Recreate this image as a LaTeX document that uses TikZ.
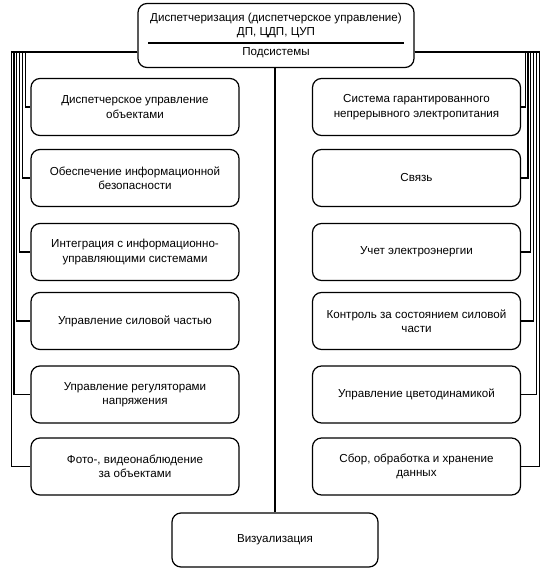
\documentclass[tikz,border=0pt]{standalone}
\usepackage{fontspec}
\setmainfont{Liberation Sans}
\usetikzlibrary{calc}
\begin{document}
\begin{tikzpicture}[x=1pt,y=-1pt,
  every node/.style={font=\fontsize{11.6}{14.5}\selectfont},
  sbox/.style={draw,line width=1.2pt,rounded corners=9pt,minimum width=208pt,minimum height=57pt,align=center,inner sep=2pt},
  txt/.style={inner sep=0pt},
  conn/.style={line width=1.2pt}]
\useasboundingbox (0,0) rectangle (547,574);
% top box
\node[draw,line width=1.2pt,rounded corners=9pt,minimum width=276pt,minimum height=64pt] (top) at (276,35.5) {};
\node[txt] (t1) at (276,18) {Диспетчеризация (диспетчерское управление)};
\node[txt] (t2) at (276,33) {ДП, ЦДП, ЦУП};
\node[txt] (t3) at (276,53) {Подсистемы};
\draw[conn] ($(top.north west)+(11,40)$) -- ($(top.north east)+(-11,40)$);
\coordinate (tw) at ([yshift=-16.5pt]top.west);
\coordinate (te) at ([yshift=-16.5pt]top.east);
% left boxes
\node[sbox] (l1) at (135,107) {Диспетчерское управление\\объектами};
\node[sbox] (l2) at (135,178) {Обеспечение информационной\\безопасности};
\node[sbox] (l3) at (135,252) {Интеграция с информационно-\\управляющими системами};
\node[sbox] (l4) at (135,321) {Управление силовой частью};
\node[sbox] (l5) at (135,394.5) {Управление регуляторами\\напряжения};
\node[sbox] (l6) at (135,466.5) {Фото-, видеонаблюдение\\за объектами};
% right boxes
\node[sbox] (r1) at (416.5,107) {Система гарантированного\\непрерывного электропитания};
\node[sbox] (r2) at (416.5,178) {Связь};
\node[sbox] (r3) at (416.5,252) {Учет электроэнергии};
\node[sbox] (r4) at (416.5,321) {Контроль за состоянием силовой\\части};
\node[sbox] (r5) at (416.5,394.5) {Управление цветодинамикой};
\node[sbox] (r6) at (416.5,466.5) {Сбор, обработка и хранение\\данных};
% bottom
\node[draw,line width=1.2pt,rounded corners=9pt,minimum width=206pt,minimum height=54pt] (vis) at (275,540) {Визуализация};
\draw[conn] (vis.north) -- (vis.north |- top.south);
% bus coordinates
\foreach \i/\x in {1/25.2,2/22.4,3/19.6,4/16.8,5/14,6/11.2}{
  \coordinate (L\i) at (\x,52);
  \draw[conn] (tw) -| (L\i) |- (l\i.west);
}
\foreach \i/\x in {1/525.2,2/528,3/530.8,4/533.6,5/536.4,6/539.2}{
  \coordinate (R\i) at (\x,52);
  \draw[conn] (te) -| (R\i) |- (r\i.east);
}
\end{tikzpicture}
\end{document}
